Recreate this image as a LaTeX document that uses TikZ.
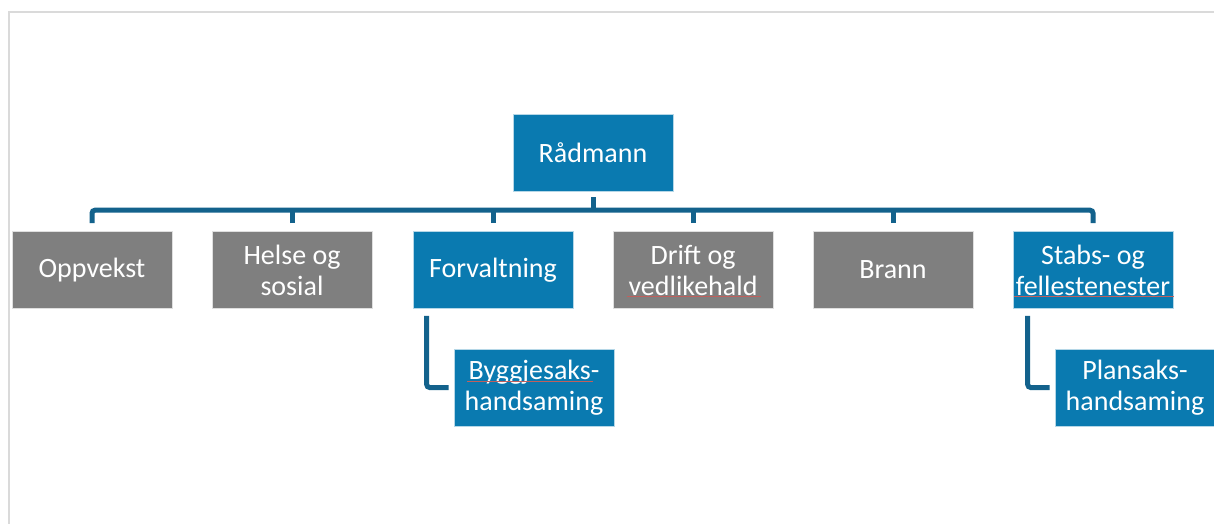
\documentclass[tikz,border=0pt]{standalone}
\usepackage{fontspec}
\setmainfont{Carlito}
\definecolor{boxblue}{HTML}{0A7AB0}
\definecolor{boxgray}{HTML}{7F7F7F}
\definecolor{linecol}{HTML}{13628C}
\definecolor{framecol}{HTML}{DADADA}
\definecolor{spellred}{HTML}{C0605D}
\tikzset{
  orgbox/.style={minimum width=160pt, minimum height=77pt, inner sep=0pt,
    align=center, text=white, draw=white!70!boxblue, line width=0.6pt,
    font=\fontsize{28}{31}\selectfont},
  bluebox/.style={orgbox, fill=boxblue},
  graybox/.style={orgbox, fill=boxgray, draw=white!75!boxgray},
  conn/.style={draw=linecol, line width=5pt},
  spell/.style={draw=spellred, line width=0.8pt}
}
\begin{document}
\begin{tikzpicture}[x=1pt,y=-1pt]
\useasboundingbox (0,0) rectangle (1214,524);
\fill[white] (0,0) rectangle (1214,524);
\draw[framecol, line width=2pt] (9,524) -- (9,12) -- (1214,12);

\node[bluebox] (r) at (593,152.5) {Rådmann};
\node[graybox] (c1) at (92,270) {Oppvekst};
\node[graybox] (c2) at (292,270) {Helse og\\sosial};
\node[bluebox] (c3) at (493,270) {Forvaltning};
\node[graybox] (c4) at (693,270) {Drift og\\vedlikehald};
\node[graybox] (c5) at (893,270) {Brann};
\node[bluebox] (c6) at (1093,270) {Stabs- og\\fellestenester};
\node[bluebox] (s1) at (534,387.5) {Byggjesaks-\\handsaming};
\node[bluebox] (s2) at (1135,387.5) {Plansaks-\\handsaming};

\draw[conn, rounded corners=3pt] ([yshift=8pt]c1.north) -- ++(0,-13) -| ([yshift=8pt]c6.north);
\draw[conn] ([yshift=-6pt]r.south) -- ++(0,15);
\draw[conn] ([yshift=8pt]c2.north) -- ++(0,-14);
\draw[conn] ([yshift=8pt]c3.north) -- ++(0,-14);
\draw[conn] ([yshift=8pt]c4.north) -- ++(0,-14);
\draw[conn] ([yshift=8pt]c5.north) -- ++(0,-14);
\draw[conn, rounded corners=3pt] ([xshift=14pt,yshift=-7pt]c3.south west) |- ([xshift=-5pt]s1.west);
\draw[conn, rounded corners=3pt] ([xshift=15pt,yshift=-7pt]c6.south west) |- ([xshift=-5pt]s2.west);

% spell-check marks
\coordinate (sp1a) at (627,296); \coordinate (sp1b) at (761,296);
\draw[spell] (sp1a) -- (sp1b);
\coordinate (sp2a) at (467,381); \coordinate (sp2b) at (593,381);
\draw[spell] (sp2a) -- (sp2b);
\coordinate (sp3a) at (1014,296); \coordinate (sp3b) at (1174,296);
\draw[spell] (sp3a) -- (sp3b);
\end{tikzpicture}
\end{document}
